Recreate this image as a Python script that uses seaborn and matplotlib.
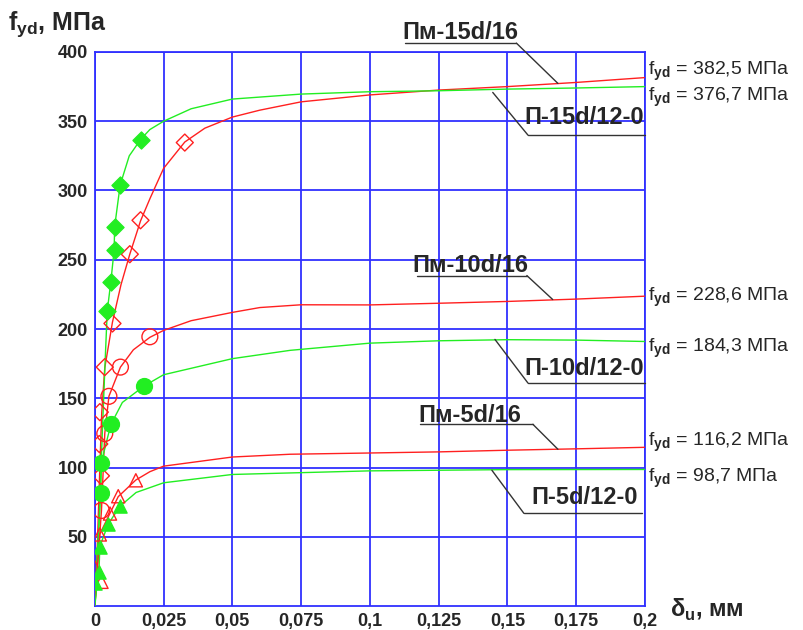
import matplotlib
matplotlib.use('Agg')
import matplotlib.pyplot as plt
import seaborn as sns

# curves: deformation (mm) vs stress (MPa)
pm15_x = [0, 0.001, 0.0018, 0.0025, 0.0036, 0.0064, 0.0095, 0.0127, 0.0166, 0.02, 0.025, 0.0327, 0.04, 0.05, 0.06, 0.075, 0.1, 0.125, 0.15, 0.175, 0.2]
pm15_y = [0, 50, 100, 140, 172, 205, 232, 254, 278, 294, 316, 335, 345, 353, 358, 364, 369, 372.5, 375, 378, 381.5]
p15_x = [0, 0.0015, 0.0028, 0.0038, 0.0045, 0.0058, 0.007, 0.0072, 0.0092, 0.0125, 0.0167, 0.02, 0.025, 0.035, 0.05, 0.075, 0.1, 0.125, 0.15, 0.175, 0.2]
p15_y = [0, 60, 130, 180, 213, 234, 257, 274, 304, 325, 337, 344, 350, 359, 366, 369.6, 371.3, 372, 373.2, 374, 375]
pm10_x = [0, 0.0012, 0.0024, 0.0036, 0.0051, 0.0093, 0.014, 0.02, 0.025, 0.035, 0.05, 0.06, 0.075, 0.1, 0.125, 0.15, 0.175, 0.2]
pm10_y = [0, 35, 69, 124.5, 151.4, 172.5, 185, 194, 199, 206, 212, 215.5, 217.5, 217.4, 218.6, 219.9, 221.6, 223.7]
p10_x = [0, 0.0021, 0.0024, 0.0058, 0.01, 0.018, 0.025, 0.05, 0.071, 0.1, 0.125, 0.15, 0.175, 0.2]
p10_y = [0, 81, 104, 131, 147, 159, 167, 178.6, 184.6, 189.8, 191.5, 192.3, 192, 191]
pm5_x = [0, 0.001, 0.0018, 0.0055, 0.0085, 0.0149, 0.02, 0.025, 0.05, 0.071, 0.1, 0.125, 0.15, 0.175, 0.2]
pm5_y = [0, 30, 52, 67, 79, 91, 97, 101, 107.6, 109.6, 110.5, 111.3, 112.5, 113.5, 114.6]
p5_x = [0, 0.0008, 0.0015, 0.0018, 0.0048, 0.0091, 0.015, 0.025, 0.05, 0.071, 0.1, 0.15, 0.2]
p5_y = [0, 16, 25, 43, 59, 72, 82, 89, 95, 96.1, 97.6, 98.5, 98.6]

# test points (markers)
pm15_mx = [0.0022, 0.0016, 0.0018, 0.0036, 0.0064, 0.0127, 0.0166, 0.0327]
pm15_my = [94, 117, 140, 172.5, 204, 254, 278.5, 334.6]
p15_mx = [0.0045, 0.0058, 0.0072, 0.0072, 0.0092, 0.0167]
p15_my = [213, 233.6, 256.8, 273.7, 304.3, 336.7]
pm10_mx = [0.0024, 0.0036, 0.0051, 0.0093, 0.02]
pm10_my = [69, 124.5, 151.4, 172.5, 194.4]
p10_mx = [0.0021, 0.0024, 0.0058, 0.018]
p10_my = [81.3, 103.6, 131.2, 158.8]
pm5_mx = [0.0024, 0.0, 0.0018, 0.0055, 0.0085, 0.0149]
pm5_my = [17.5, 28, 51.7, 66.8, 79.3, 90.8]
p5_mx = [0.0, 0.0015, 0.0018, 0.0048, 0.0091]
p5_my = [16.4, 24.7, 42.7, 59, 72]

series_names = ['Пм-15d/16', 'П-15d/12-0', 'Пм-10d/16', 'П-10d/12-0', 'Пм-5d/16', 'П-5d/12-0']
fyd_labels = ['382,5', '376,7', '228,6', '184,3', '116,2', '98,7']

x_ticks = [0, 0.025, 0.05, 0.075, 0.1, 0.125, 0.15, 0.175, 0.2]
x_ticklabels = ['0', '0,025', '0,05', '0,075', '0,1', '0,125', '0,15', '0,175', '0,2']
y_ticks = [50, 100, 150, 200, 250, 300, 350, 400]

RED = '#ff2020'
GREEN = '#22ee22'
BLUE = '#3030ff'

sns.set_style('white')
plt.rcParams['font.family'] = ['Liberation Sans', 'DejaVu Sans']
plt.rcParams['mathtext.fontset'] = 'custom'
plt.rcParams['mathtext.rm'] = 'Liberation Sans'
plt.rcParams['mathtext.bf'] = 'Liberation Sans:bold'

fig = plt.figure(figsize=(8.04, 6.3), dpi=100)
ax = fig.add_axes([0.118, 0.038, 0.684, 0.8795])

curves = [(pm15_x, pm15_y, RED), (p15_x, p15_y, GREEN), (pm10_x, pm10_y, RED),
          (p10_x, p10_y, GREEN), (pm5_x, pm5_y, RED), (p5_x, p5_y, GREEN)]
for cx, cy, col in curves:
    sns.lineplot(x=cx, y=cy, color=col, lw=1.0, sort=False, estimator=None, ax=ax, zorder=3)

marks = [(pm15_mx, pm15_my, RED, 'D', False, 75), (p15_mx, p15_my, GREEN, 'D', True, 75),
         (pm10_mx, pm10_my, RED, 'o', False, 130), (p10_mx, p10_my, GREEN, 'o', True, 130),
         (pm5_mx, pm5_my, RED, '^', False, 90), (p5_mx, p5_my, GREEN, '^', True, 90)]
for mx, my, col, mk, filled, sz in marks:
    sns.scatterplot(x=mx, y=my, marker=mk, s=sz, ax=ax, zorder=4,
                    facecolor=col if filled else 'none', edgecolor=col, linewidth=1.0)

ax.set_xlim(0, 0.2)
ax.set_ylim(0, 400)
ax.set_xticks(x_ticks)
ax.set_xticklabels(x_ticklabels)
ax.set_yticks(y_ticks)
ax.grid(True, color=BLUE, lw=1.3)
for sp in ax.spines.values():
    sp.set_color(BLUE)
    sp.set_linewidth(1.3)
ax.tick_params(length=0, pad=5)
for lab in ax.get_xticklabels() + ax.get_yticklabels():
    lab.set_fontweight('bold')
    lab.set_fontsize(13)

# axis titles
fig.text(0.01, 0.962, r'f$_{\mathbf{yd}}$, МПа', fontsize=18, fontweight='bold', va='center', ha='left')
ax.text(0.2091, -3, r'δ$_{\mathbf{u}}$, мм', fontsize=17, fontweight='bold', va='center', ha='left', clip_on=False)

# series labels with underline and leader line
label_pos = [
    (0.1331, 414, 0.1127, 0.1533, 406.4, 0.1533, 0.1684, 377.3),
    (0.1778, 352.6, 0.1575, 0.2, 340, 0.1575, 0.1447, 370.8),
    (0.1364, 245.9, 0.1171, 0.1571, 238.6, 0.1571, 0.1665, 221.3),
    (0.1778, 171.6, 0.1575, 0.2, 161, 0.1575, 0.1455, 192.5),
    (0.1364, 137.7, 0.1182, 0.1593, 131.2, 0.1593, 0.1684, 113.2),
    (0.1782, 78.6, 0.156, 0.1989, 67, 0.156, 0.1444, 98),
]
for name, (tx, ty, u0, u1, uy, lx0, lx1, ly1) in zip(series_names, label_pos):
    ax.text(tx, ty, name, fontsize=17, fontweight='bold', ha='center', va='center',
            clip_on=False, zorder=6)
    ax.plot([u0, u1], [uy, uy], color='#333333', lw=1.0, clip_on=False, zorder=5)
    ax.plot([lx0, lx1], [uy, ly1], color='#333333', lw=1.0, clip_on=False, zorder=5)

# f_yd values on the right
fyd_y = [386.4, 367, 222.8, 186, 118.2, 92.3]
for val, yy in zip(fyd_labels, fyd_y):
    ax.text(0.2011, yy, r'f$_{\mathbf{yd}}$ = ' + val + ' МПа', fontsize=14, ha='left', va='center', clip_on=False)

fig.savefig('out.png', dpi=100)
